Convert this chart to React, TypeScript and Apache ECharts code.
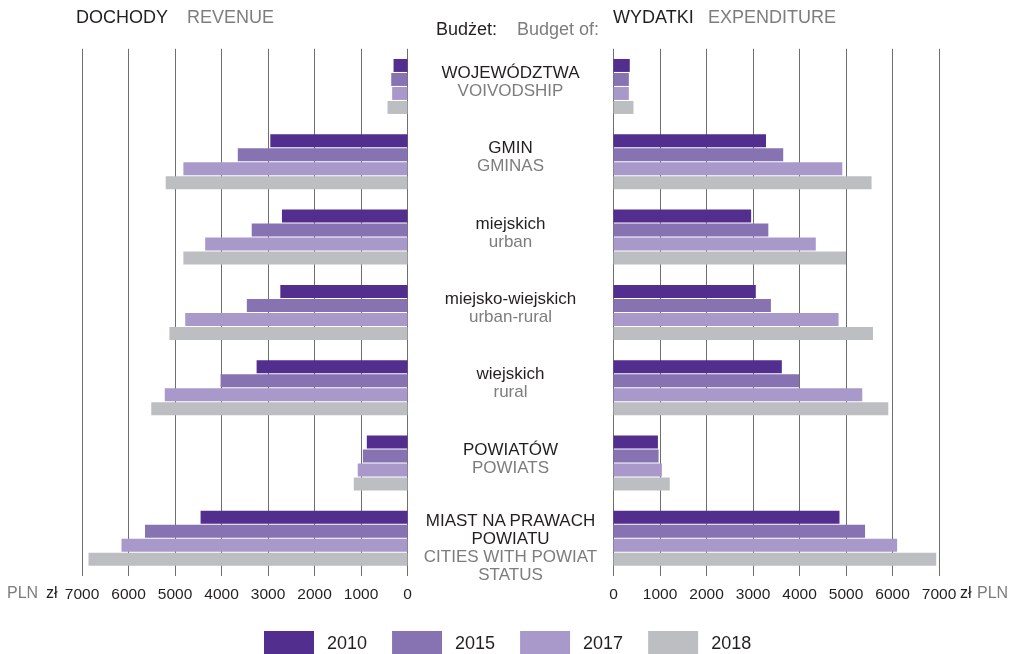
import React, { useEffect, useRef } from "react";
import * as echarts from "echarts";

const categories = ["WOJEWÓDZTWA", "GMIN", "miejskich", "miejsko-wiejskich", "wiejskich", "POWIATÓW", "MIAST NA PRAWACH\nPOWIATU"];
const categoriesEn = ["VOIVODSHIP", "GMINAS", "urban", "urban-rural", "rural", "POWIATS", "CITIES WITH POWIAT\nSTATUS"];
const years = ["2010", "2015", "2017", "2018"];

const revenue2010 = [300, 2950, 2700, 2735, 3245, 875, 4450];
const revenue2015 = [350, 3650, 3350, 3455, 4020, 960, 5645];
const revenue2017 = [330, 4820, 4350, 4780, 5220, 1070, 6150];
const revenue2018 = [430, 5200, 4820, 5120, 5510, 1155, 6860];

const expenditure2010 = [350, 3280, 2960, 3060, 3620, 955, 4860];
const expenditure2015 = [330, 3650, 3330, 3385, 3990, 970, 5410];
const expenditure2017 = [330, 4920, 4350, 4840, 5350, 1040, 6100];
const expenditure2018 = [430, 5550, 5000, 5580, 5910, 1210, 6940];

const revenue = [revenue2010, revenue2015, revenue2017, revenue2018];
const expenditure = [expenditure2010, expenditure2015, expenditure2017, expenditure2018];

const axisMin = 0;
const axisMax = 7000;
const axisInterval = 1000;

const colors = ["#522e8e", "#8873b2", "#a998ca", "#bdbec2"];
const BLACK = "#231f20";
const GREY = "#7d7d7d";
const FONT = "'Liberation Sans', Arial, sans-serif";

export default function App() {
  const ref = useRef<HTMLDivElement>(null);
  useEffect(() => {
    if (!ref.current) return;
    const chart = echarts.init(ref.current, null, { renderer: "svg" });
    const gridTop = 48.8;
    const gridHeight = 527.2;
    const xAxisCommon = {
      type: "value",
      min: axisMin,
      max: axisMax,
      interval: axisInterval,
      axisLine: { show: false },
      axisTick: { show: false },
      splitLine: { show: true, lineStyle: { color: "#6d6e71", width: 1 } },
      axisLabel: {
        color: BLACK,
        fontSize: 15.5,
        fontFamily: FONT,
        margin: 9,
        formatter: (v: number) => String(v),
      },
    };
    const yAxisCommon = {
      type: "category",
      data: categories,
      inverse: true,
      axisLine: { show: false },
      axisTick: { show: false },
      axisLabel: { show: false },
      splitLine: { show: false },
    };
    const series: any[] = [];
    years.forEach((y, i) => {
      series.push({
        name: y,
        type: "bar",
        xAxisIndex: 0,
        yAxisIndex: 0,
        data: revenue[i],
        itemStyle: { color: colors[i] },
        barCategoryGap: "27%",
        barGap: "8%",
      });
    });
    years.forEach((y, i) => {
      series.push({
        name: y,
        type: "bar",
        xAxisIndex: 1,
        yAxisIndex: 1,
        data: expenditure[i],
        itemStyle: { color: colors[i] },
        barCategoryGap: "27%",
        barGap: "8%",
      });
    });
    chart.setOption({
      animation: false,
      textStyle: { fontFamily: FONT },
      grid: [
        { left: 82, top: gridTop, width: 325.5, height: gridHeight },
        { left: 613.5, top: gridTop, width: 325.5, height: gridHeight },
      ],
      xAxis: [
        { ...xAxisCommon, gridIndex: 0, inverse: true },
        { ...xAxisCommon, gridIndex: 1 },
      ],
      yAxis: [
        { ...yAxisCommon, gridIndex: 0 },
        { ...yAxisCommon, gridIndex: 1 },
      ],
      legend: {
        data: years,
        left: 264,
        top: 631,
        padding: 0,
        itemWidth: 50,
        itemHeight: 24,
        itemGap: 25,
        icon: "rect",
        textStyle: { color: BLACK, fontSize: 18, fontFamily: FONT, padding: [0, 0, 0, 8] },
      },
      series,
    });

    const labelX = 510.5;
    const graphics: any[] = [];
    categories.forEach((c, i) => {
      const cy = chart.convertToPixel({ yAxisIndex: 1 }, c) as unknown as number;
      const blackLines = c.split("\n");
      const greyLines = categoriesEn[i].split("\n");
      const nLines = blackLines.length + greyLines.length;
      const offset = nLines > 2 ? 9.5 : -5;
      const text =
        blackLines.map((t) => `{a|${t}}`).join("\n") + "\n" + greyLines.map((t) => `{b|${t}}`).join("\n");
      graphics.push({
        type: "text",
        x: labelX,
        y: cy + offset,
        style: {
          text,
          align: "center",
          verticalAlign: "middle",
          lineHeight: 18,
          font: `17px ${FONT}`,
          rich: {
            a: { fill: BLACK, fontSize: 17, fontFamily: FONT, lineHeight: 18 },
            b: { fill: GREY, fontSize: 17, fontFamily: FONT, lineHeight: 18 },
          },
        },
      });
    });
    const hdr = (text: string, x: number, y: number, color: string, size: number, align = "left") => ({
      type: "text",
      x,
      y,
      style: { text, fill: color, fontSize: size, fontFamily: FONT, align, verticalAlign: "middle" },
    });
    graphics.push(hdr("DOCHODY", 76, 17, BLACK, 18));
    graphics.push(hdr("REVENUE", 187, 17, GREY, 18));
    graphics.push(hdr("WYDATKI", 613, 17, BLACK, 18));
    graphics.push(hdr("EXPENDITURE", 708, 17, GREY, 18));
    graphics.push(hdr("Budżet:", 497, 29, BLACK, 18, "right"));
    graphics.push(hdr("Budget of:", 599, 29, GREY, 18, "right"));
    graphics.push(hdr("PLN", 7, 592, GREY, 16));
    graphics.push(hdr("zł", 46, 592, BLACK, 16));
    graphics.push(hdr("zł", 960, 592, BLACK, 16));
    graphics.push(hdr("PLN", 977, 592, GREY, 16));
    chart.setOption({ graphic: graphics });

    return () => chart.dispose();
  }, []);
  return <div ref={ref} style={{ position: "fixed", left: 0, top: 0, width: 1013, height: 654 }} />;
}
